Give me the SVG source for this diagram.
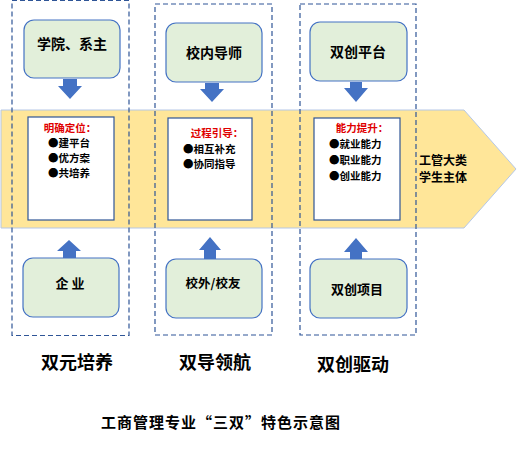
<svg xmlns="http://www.w3.org/2000/svg" width="517" height="449" viewBox="0 0 517 449">
<style>
.t{font-family:"Noto Sans CJK SC","Liberation Sans",sans-serif;font-weight:bold;fill:#000;text-anchor:middle}
.r{fill:#E00000}
.l{text-anchor:start}
.node{fill:#E2EFDA;stroke:#4472C4;stroke-width:1.2}
.inner{fill:#fff;stroke:#2F5597;stroke-width:1.2}
.dash{fill:none;stroke:#2F5597;stroke-width:1.2;stroke-dasharray:5,3}
.arr{fill:#4472C4}
</style>
<rect width="517" height="449" fill="#fff"/>
<g id="band">
<polygon points="1,110 464,110 516,169 464,228 1,228" fill="#FFE699" stroke="#B4C7E7" stroke-width="1"/>
</g>
<g id="col1">
<rect class="dash" x="12" y="0.5" width="117" height="335"/>
</g>
<g id="col2">
<rect class="dash" x="155" y="4" width="117" height="331"/>
</g>
<g id="col3">
<rect class="dash" x="300" y="4" width="116" height="331"/>
</g>
<g id="connectors">
<polygon class="arr" points="63,79 77,79 77,86 82,86 70,99 58,86 63,86"/>
<polygon class="arr" points="205,83 219,83 219,89 224,89 212,102 200,89 205,89"/>
<polygon class="arr" points="350,82 362,82 362,88 368,88 356,102 344,88 350,88"/>
<polygon class="arr" points="63,258 76,258 76,251 81,251 69,240 57,251 63,251"/>
<polygon class="arr" points="204,259 216,259 216,250 221,250 210,237 199,250 204,250"/>
<polygon class="arr" points="350,259 362,259 362,252 368,252 356,238 344,252 350,252"/>
</g>
<g id="n-top1">
<rect class="node" x="24" y="20" width="96" height="58" rx="10"/>
<text class="t" x="72" y="49" font-size="14">学院、系主</text>
</g>
<g id="n-top2">
<rect class="node" x="166" y="23" width="96" height="59" rx="10"/>
<text class="t" x="214" y="58" font-size="14">校内导师</text>
</g>
<g id="n-top3">
<rect class="node" x="310" y="22" width="97" height="59" rx="10"/>
<text class="t" x="358" y="57" font-size="14">双创平台</text>
</g>
<g id="n-in1">
<rect class="inner" x="28" y="117" width="86" height="103"/>
<text class="t r" x="70" y="132" font-size="10.5">明确定位：</text>
<text class="t l" x="48" y="147" font-size="10.5">●建平台</text>
<text class="t l" x="48" y="162" font-size="10.5">●优方案</text>
<text class="t l" x="48" y="177" font-size="10.5">●共培养</text>
</g>
<g id="n-in2">
<rect class="inner" x="168" y="118" width="84" height="102"/>
<text class="t r" x="217" y="137" font-size="10.5">过程引导：</text>
<text class="t l" x="183" y="153" font-size="10.5">●相互补充</text>
<text class="t l" x="183" y="168" font-size="10.5">●协同指导</text>
</g>
<g id="n-in3">
<rect class="inner" x="314" y="118" width="86" height="102"/>
<text class="t r" x="362" y="132" font-size="10.5">能力提升：</text>
<text class="t l" x="329" y="148" font-size="10.5">●就业能力</text>
<text class="t l" x="329" y="164" font-size="10.5">●职业能力</text>
<text class="t l" x="329" y="180" font-size="10.5">●创业能力</text>
</g>
<g id="n-side">
<text class="t l" x="419" y="165" font-size="12">工管大类</text>
<text class="t l" x="419" y="182" font-size="12">学生主体</text>
</g>
<g id="n-bot1">
<rect class="node" x="23" y="258" width="96" height="59" rx="10"/>
<text class="t" x="70" y="288" font-size="13">企  业</text>
</g>
<g id="n-bot2">
<rect class="node" x="166" y="259" width="96" height="59" rx="10"/>
<text class="t" x="213" y="288" font-size="12.5">校外/校友</text>
</g>
<g id="n-bot3">
<rect class="node" x="310" y="259" width="97" height="59" rx="10"/>
<text class="t" x="357" y="294" font-size="13">双创项目</text>
</g>
<g id="labels">
<text class="t" x="77" y="369" font-size="18">双元培养</text>
<text class="t" x="215" y="369" font-size="18">双导领航</text>
<text class="t" x="353" y="371" font-size="18">双创驱动</text>
<text class="t" x="221" y="428" font-size="15" letter-spacing="1">工商管理专业“三双”特色示意图</text>
</g>
</svg>
